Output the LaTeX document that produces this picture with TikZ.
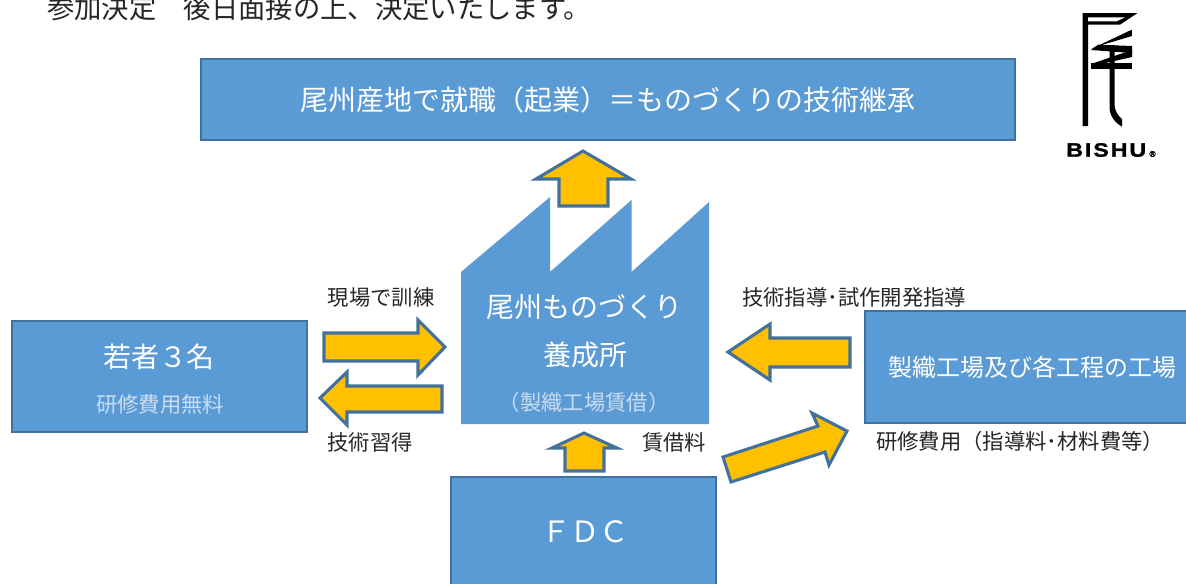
\documentclass[tikz,border=0pt]{standalone}
\usepackage{fontspec}
\setmainfont{Noto Sans CJK JP}
\newfontfamily\latinbold{Liberation Sans}[FakeStretch=1.2,LetterSpace=10,FakeBold=1.5]
\newfontfamily\regfont{DejaVu Sans}[FakeBold=2]
\definecolor{boxblue}{HTML}{5B9BD5}
\definecolor{edgeblue}{HTML}{41719C}
\definecolor{arrowgold}{HTML}{FFC000}
\definecolor{inktext}{HTML}{262626}
\definecolor{palelabel}{HTML}{C9DDF1}
\newcommand{\fsz}[1]{\fontsize{#1}{#1}\selectfont}
\tikzset{
  x=0.75pt,y=-0.75pt,
  bluebox/.style={draw=edgeblue,line width=2.1pt,fill=boxblue},
  blockarrow/.style={draw=edgeblue,line width=2.3pt,fill=arrowgold,miter limit=10},
  plainlabel/.style={inner sep=0pt,text=inktext,font=\fsz{16}},
  whitelabel/.style={inner sep=0pt,text=white},
  logostroke/.style={fill=black,draw=none}
}
\begin{document}
\begin{tikzpicture}
\useasboundingbox (0,0) rectangle (1186,583);
\fill[white] (0,0) rectangle (1186,583);
% top line of text
\node[inner sep=0pt,anchor=west,text=inktext,font=\fsz{20.5}] (intro) at (47,8.5) {参加決定　後日面接の上、決定いたします。};
% boxes
\draw[bluebox] (201,59) rectangle (1015,140);
\coordinate (topc) at (608,100);
\node[whitelabel,font=\fsz{21}] (toplabel) at (topc) {尾州産地で就職（起業）＝ものづくりの技術継承};
\draw[bluebox] (12,321) rectangle (307,432);
\node[whitelabel,font=\fsz{21}] (young) at (159,357) {若者３名};
\node[inner sep=0pt,text=palelabel,font=\fsz{16}] (free) at (160,404) {研修費用無料};
\draw[bluebox] (865,311) rectangle (1190,423);
\node[whitelabel,font=\fsz{18}] (mills) at (1032.5,367) {製織工場及び各工程の工場};
\draw[bluebox] (451,477) rectangle (716,590);
\node[whitelabel,font=\fsz{22}] (fdc) at (585,532) {ＦＤＣ};
% factory
\fill[boxblue] (461,272) -- (550,197) -- (550,272) -- (631.5,200) -- (631.5,272) -- (709,202) -- (709,424) -- (461,424) -- cycle;
\node[whitelabel,font=\fsz{21}] (fa) at (584,307) {尾州ものづくり};
\node[whitelabel,font=\fsz{21}] (fb) at (585,355) {養成所};
\node[inner sep=0pt,text=palelabel,font=\fsz{16}] (fc) at (584,402) {（製織工場賃借）};
% block arrows
\draw[blockarrow] (583,151) -- (536,179) -- (559,179) -- (559,206) -- (608,206) -- (608,179) -- (631,179) -- cycle;
\draw[blockarrow] (324,333) -- (418,333) -- (418,320) -- (445,347) -- (418,375) -- (418,361) -- (324,361) -- cycle;
\draw[blockarrow] (442,386) -- (347,386) -- (347,372) -- (320,398) -- (347,425) -- (347,412) -- (442,412) -- cycle;
\draw[blockarrow] (850,338) -- (770,338) -- (770,324) -- (728,352) -- (770,380) -- (770,367) -- (850,367) -- cycle;
\draw[blockarrow] (584,433) -- (552,448) -- (565,448) -- (565,471) -- (604,471) -- (604,448) -- (617,448) -- cycle;
\draw[blockarrow] (723,457) -- (818,426) -- (812,413) -- (847,431) -- (829,465) -- (825,452) -- (731,482) -- cycle;
% labels
\node[plainlabel] (l1) at (381,297) {現場で訓練};
\node[plainlabel] (l2) at (370,442) {技術習得};
\node[plainlabel] (l3) at (674,442) {賃借料};
\node[plainlabel] (l4) at (854,297) {技術指導･試作開発指導};
\node[plainlabel] (l5) at (1020,441) {研修費用（指導料･材料費等）};
% logo
\fill[logostroke] (1082.5,13) -- (1137.5,13) -- (1120,24.7) -- (1088,24.7) -- (1088,126) -- (1082.5,126) -- cycle;
\fill[white] (1088,17.3) -- (1125,17.3) -- (1116.7,21.3) -- (1088,21.3) -- cycle;
\fill[logostroke] (1131.7,29.7) -- (1132,36) -- (1100,45.5) -- (1091,49) -- cycle;
\fill[logostroke] (1098,44.7) -- (1132,46) -- (1132,53) -- (1091,50) -- cycle;
\fill[logostroke] (1132,50) -- (1132,57) -- (1101,64) -- (1091,64) -- cycle;
\fill[logostroke] (1091,63) -- (1132,63) -- (1132,68.5) -- (1091,68.5) -- cycle;
\fill[logostroke] (1109.5,45) -- (1114.5,45) -- (1114.5,105) .. controls (1115,111) and (1118,116) .. (1122,119) -- (1122,126.7) .. controls (1114,122) and (1109.5,115) .. (1109.5,107) -- cycle;
\node[inner sep=0pt,anchor=west,text=black,font=\latinbold\bfseries\fsz{14.5}] (bishu) at (1066,150) {BISHU};
\node[inner sep=0pt,text=black,font=\regfont\fsz{6}] (regmark) at (1152.5,154) {®};
\end{tikzpicture}
\end{document}
